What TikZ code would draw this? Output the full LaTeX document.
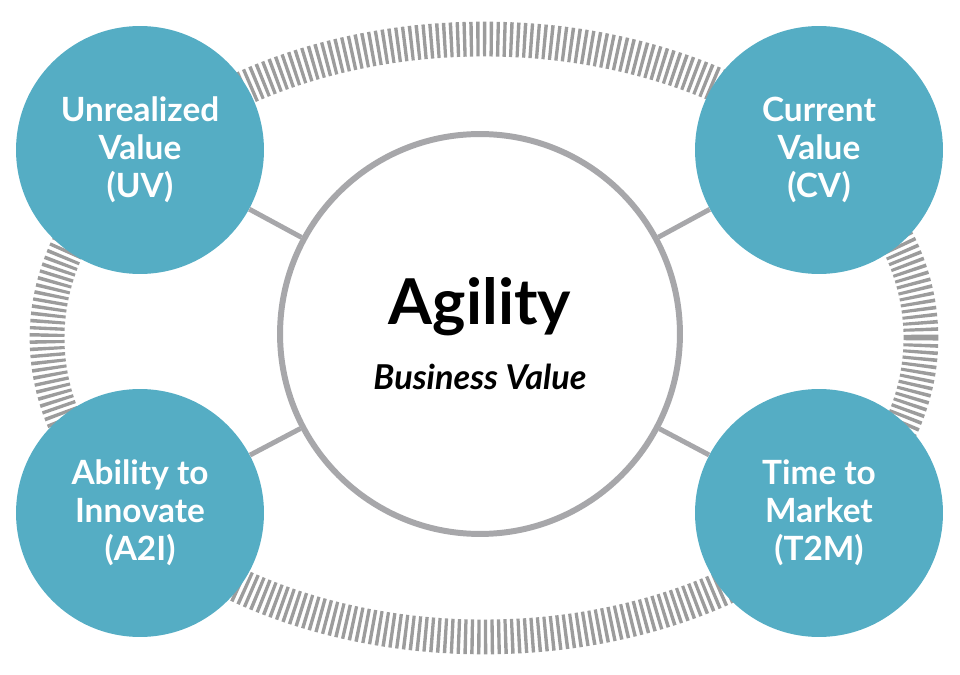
\documentclass[tikz,border=0pt]{standalone}
\usepackage{fontspec}
\setmainfont{Lato}
\usetikzlibrary{positioning}
\definecolor{valueblue}{RGB}{85,173,196}
\definecolor{linegray}{RGB}{167,167,170}
\definecolor{stripegray}{RGB}{156,156,156}

\begin{document}
\begin{tikzpicture}[x=0.02cm,y=-0.02cm,
		value/.style={circle,fill=valueblue,text=white,minimum size=4.96cm,inner sep=0pt,align=center,font=\fontsize{19}{21.5}\selectfont\bfseries},
		core/.style={circle,draw=linegray,line width=3.4pt,fill=white,minimum size=8cm,inner sep=0pt,align=center,font=\fontsize{19.5}{37}\selectfont\bfseries},
		link/.style={draw=linegray,line width=2.8pt},
		ring/.style={draw=stripegray,line width=19.8pt,dash pattern=on 1.9pt off 1.9pt}
		]
		\useasboundingbox (0,0) rectangle (960,675);
		
		% --- Striped ring behind the value circles
		\draw[ring] (484,338) ellipse (8.74cm and 5.98cm);
		
		% --- Central circle
		\node[core] (agility) at (480,334) {{\fontsize{36}{37}\selectfont Agility}\\ \itshape Business Value};
		
		% --- The four value circles
		\node[value] (uv) at (140,150) {Unrealized\\Value\\(UV)};
		\node[value] (cv) at (819,150) {Current\\Value\\(CV)};
		\node[value] (ai) at (140,513) {Ability to\\Innovate\\(A2I)};
		\node[value] (tm) at (819,513) {Time to\\Market\\(T2M)};
		
		% --- Spokes
		\draw[link] (uv) -- (agility);
		\draw[link] (cv) -- (agility);
		\draw[link] (ai) -- (agility);
		\draw[link] (tm) -- (agility);
		
	\end{tikzpicture}
\end{document}
